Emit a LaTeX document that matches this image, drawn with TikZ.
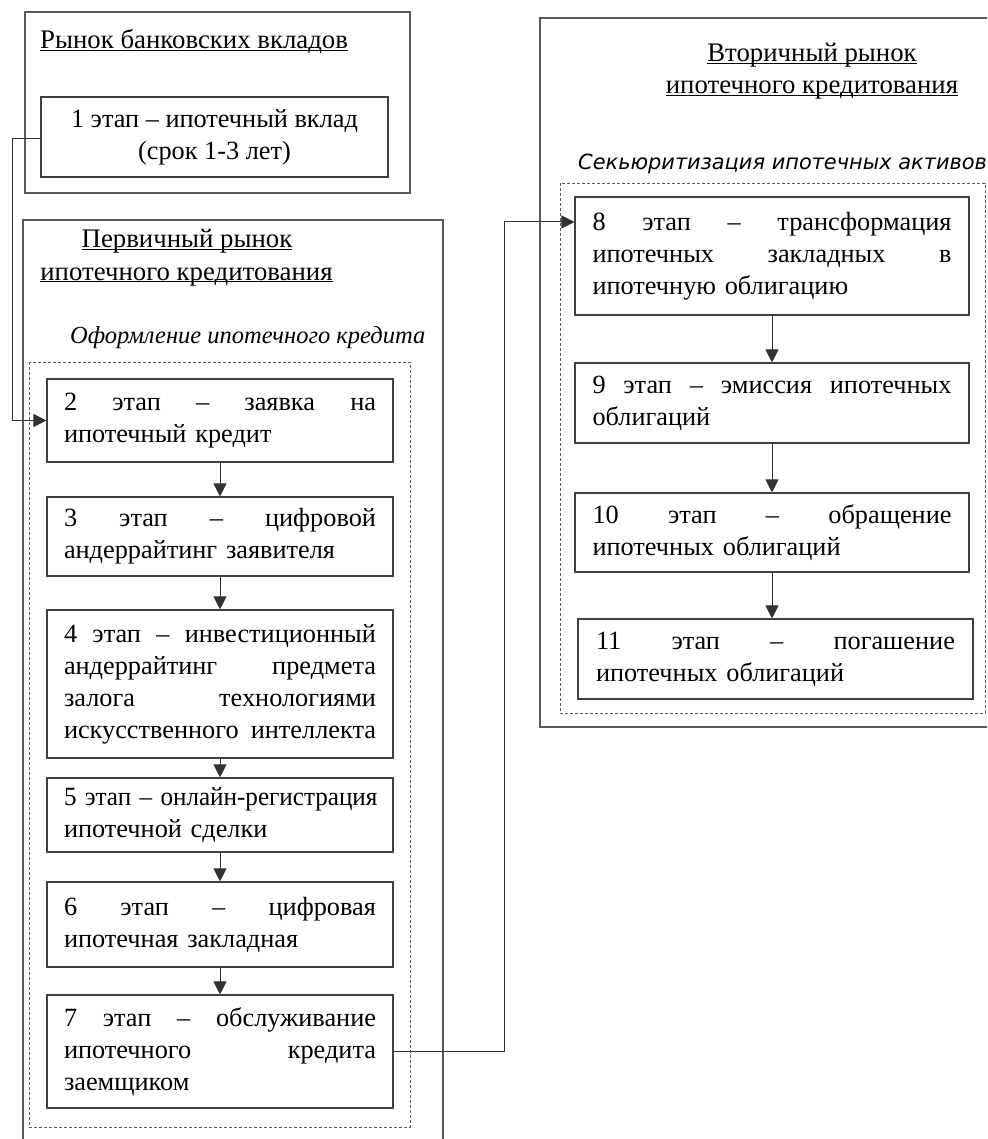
\documentclass[tikz,border=0pt]{standalone}
\usepackage{fontspec}
\usepackage{graphicx}
\setmainfont{Liberation Serif}
\newfontfamily\dvsans{DejaVu Sans}
\usetikzlibrary{arrows.meta}
\newcommand{\jf}{\hskip 0.12em plus 1fill\relax}
\newcommand{\ul}[1]{\underline{\smash{#1}}}
\begin{document}
\begin{tikzpicture}[x=1pt,y=-1pt,
  frame/.style={draw=black!65, line width=1.1pt},
  dbox/.style={draw=black!65, dash pattern=on 3pt off 2pt, line width=0.9pt},
  stage/.style={draw=black!75, line width=1.1pt, inner sep=0pt,
    font=\fontsize{26.3}{32}\selectfont, align=left},
  ttl/.style={inner sep=0pt, font=\fontsize{26.8}{32}\selectfont},
  ital/.style={inner sep=0pt, font=\fontsize{24.5}{32}\selectfont\itshape},
  arr/.style={-{Triangle[width=13pt,length=13pt]}, line width=1pt, draw=black!80}
]
\useasboundingbox (0,0) rectangle (987,1139);
\fill[white] (0,0) rectangle (987,1139);

% outer frames
\draw[frame] (25,12) rectangle (410,193);
\draw[frame] (23,1139) -- (23,220) -- (443,220) -- (443,1139);
\draw[frame] (987,18) -- (540,18) -- (540,727) -- (987,727);
% dashed groups
\draw[dbox] (29,362) rectangle (410,1127);
\draw[dbox] (560,183) rectangle (985,713);

% titles
\node[ttl, anchor=base west] (t1) at (40,49) {\ul{Рынок банковских вкладов}};
\node[ttl, anchor=base] (t2a) at (187,248) {\ul{Первичный рынок}};
\node[ttl, anchor=base] (t2b) at (186.5,280) {\ul{ипотечного кредитования}};
\node[ttl, anchor=base] (t3a) at (812,62) {\ul{Вторичный рынок}};
\node[ttl, anchor=base] (t3b) at (812,94) {\ul{ипотечного кредитования}};
\node[ital, anchor=base west] (s1) at (70,343) {Оформление ипотечного кредита};
\node[inner sep=0pt, anchor=base west, font=\dvsans\itshape\fontsize{20.9}{24}\selectfont] (s2) at (578,170) {Секьюритизация ипотечных активов};

% stage 1
\node[stage, align=center, minimum width=347pt, minimum height=80pt] (b1) at (214.5,137)
  {1 этап – ипотечный вклад\\(срок 1-3 лет)};

% left column
\begin{scope}[every node/.append style={stage, text width=312pt, minimum width=346pt}]
\node[minimum height=83pt] (b2) at (220,420.5)
  {2\jf этап\jf –\jf заявка\jf на\\ипотечный кредит};
\node[minimum height=79pt] (b3) at (220,536.5)
  {3\jf этап\jf –\jf цифровой\\андеррайтинг заявителя};
\node[minimum height=148pt] (b4) at (220,684)
  {4\jf этап\jf –\jf инвестиционный\\андеррайтинг\jf предмета\\залога\jf технологиями\\искусственного\jf интеллекта};
\node[minimum height=74pt] (b5) at (220,815)
  {\scalebox{0.955}[1]{\makebox[326.7pt][s]{5 этап – онлайн-регистрация}}\\ипотечной сделки};
\node[minimum height=85pt] (b6) at (220,924.5)
  {6\jf этап\jf –\jf цифровая\\ипотечная закладная};
\node[minimum height=113pt] (b7) at (220,1051.5)
  {7\jf этап\jf –\jf обслуживание\\ипотечного\jf кредита\\заемщиком};
\end{scope}

% right column
\begin{scope}[every node/.append style={stage, text width=359pt, minimum width=394pt}]
\node[minimum height=118pt] (b8) at (772,256)
  {8\jf этап\jf –\jf трансформация\\ипотечных\jf закладных\jf в\\ипотечную облигацию};
\node[minimum height=80pt] (b9) at (772,403)
  {9\jf этап\jf –\jf эмиссия\jf ипотечных\\облигаций};
\node[minimum height=79pt] (b10) at (772,532.5)
  {10\jf этап\jf –\jf обращение\\ипотечных облигаций};
\node[minimum height=80pt, minimum width=395pt] (b11) at (775.5,659)
  {11\jf этап\jf –\jf погашение\\ипотечных облигаций};
\end{scope}

% connectors
\coordinate (k1) at (12,139);
\coordinate (k2) at (504,222);
\draw[arr] (b1.west |- k1) -- (k1) |- (b2.west);
\draw[arr] (b7.east) -| (k2) -- (b8.north west |- k2);
\draw[arr] (b2.south) -- (b3.north);
\draw[arr] (b3.south) -- (b4.north);
\draw[arr] (b4.south) -- (b5.north);
\draw[arr] (b5.south) -- (b6.north);
\draw[arr] (b6.south) -- (b7.north);
\draw[arr] (b8.south) -- (b9.north);
\draw[arr] (b9.south) -- (b10.north);
\draw[arr] (b10.south) -- (b10.south |- b11.north);
\end{tikzpicture}
\end{document}
